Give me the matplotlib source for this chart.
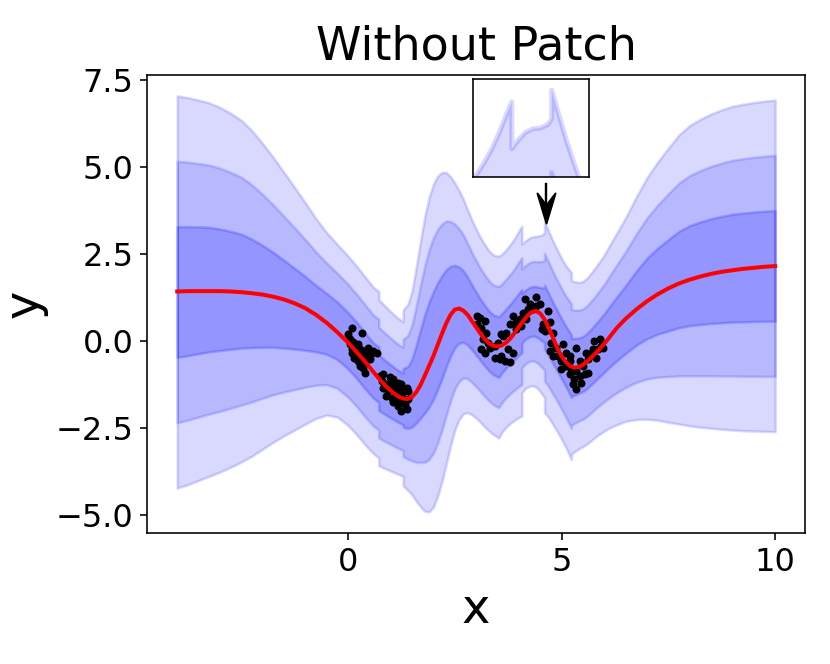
import numpy as np
import matplotlib.pyplot as plt
from matplotlib.path import Path

# x positions of the band read-outs (repeated x = jump in the band)
band_x = [-4.0, -3.75, -3.5, -3.25, -3.0, -2.75, -2.5, -2.25, -2.0, -1.75, -1.5, -1.25,
          -1.0, -0.75, -0.5, -0.25, 0.0, 0.2, 0.4, 0.6, 0.72, 0.72, 0.85, 1.0, 1.15,
          1.29, 1.29, 1.4, 1.5, 1.6, 1.7, 1.8, 1.9, 2.0, 2.1, 2.2, 2.3, 2.4, 2.5, 2.6,
          2.7, 2.8, 2.9, 3.0, 3.1, 3.2, 3.3, 3.4, 3.53, 3.6, 3.7, 3.8, 3.9, 4.0, 4.07,
          4.07, 4.15, 4.25, 4.35, 4.45, 4.55, 4.6, 4.6, 4.7, 4.8, 4.9, 5.0, 5.1, 5.23,
          5.23, 5.3, 5.42, 5.5, 5.6, 5.7, 5.8, 5.9, 6.0, 6.1, 6.25, 6.5, 6.75, 7.0,
          7.25, 7.5, 7.75, 8.0, 8.25, 8.5, 8.75, 9.0, 9.25, 9.5, 9.75, 10.0]
# upper and lower edge of the 3-sigma band
band_hi3 = [7.05, 7.0, 6.93, 6.85, 6.72, 6.55, 6.35, 6.05, 5.68, 5.28, 4.85, 4.42,
            3.98, 3.52, 3.12, 2.78, 2.45, 2.16, 1.85, 1.54, 1.43, 1.20, 1.03, 0.85, 0.68,
            0.56, 0.90, 1.05, 1.45, 2.15, 2.9, 3.6, 4.15, 4.52, 4.75, 4.85, 4.85, 4.73,
            4.55, 4.33, 4.08, 3.78, 3.48, 3.22, 2.98, 2.78, 2.60, 2.48, 2.44, 2.50, 2.63,
            2.78, 2.96, 3.17, 3.31, 2.79, 2.88, 2.97, 3.01, 3.02, 3.06, 3.12, 3.44, 3.15,
            2.87, 2.62, 2.38, 2.17, 1.97, 1.75, 1.71, 1.69, 1.72, 1.82, 1.97, 2.13, 2.30,
            2.48, 2.70, 3.02, 3.55, 4.15, 4.7, 5.15, 5.55, 5.93, 6.2, 6.38, 6.53, 6.65,
            6.75, 6.81, 6.86, 6.9, 6.93]
band_lo3 = [-4.22, -4.12, -4.0, -3.88, -3.76, -3.62, -3.47, -3.3, -3.1, -2.9, -2.72,
            -2.55, -2.38, -2.22, -2.12, -2.18, -2.42, -2.68, -2.98, -3.24, -3.35, -3.58,
            -3.65, -3.73, -3.81, -3.88, -4.16, -4.28, -4.42, -4.6, -4.76, -4.89, -4.9,
            -4.76, -4.45, -4.03, -3.52, -3.0, -2.55, -2.25, -2.08, -2.05, -2.11, -2.21,
            -2.33, -2.46, -2.58, -2.68, -2.78, -2.62, -2.47, -2.36, -2.27, -2.19, -2.15,
            -1.48, -1.36, -1.29, -1.28, -1.37, -1.53, -1.62, -2.05, -2.2, -2.4, -2.6,
            -2.82, -3.05, -3.4, -3.25, -3.18, -3.08, -3.03, -2.95, -2.85, -2.75, -2.66,
            -2.58, -2.51, -2.42, -2.3, -2.25, -2.24, -2.27, -2.33, -2.38, -2.43, -2.47,
            -2.5, -2.53, -2.55, -2.57, -2.58, -2.59, -2.6]

# predictive mean (red curve)
mean_x = [-4.0, -3.75, -3.5, -3.25, -3.0, -2.75, -2.5, -2.25, -2.0, -1.75, -1.5, -1.25,
          -1.0, -0.75, -0.5, -0.25, 0.0, 0.1, 0.2, 0.3, 0.4, 0.5, 0.6, 0.7, 0.8, 0.9,
          1.0, 1.1, 1.2, 1.3, 1.4, 1.5, 1.6, 1.7, 1.8, 1.9, 2.0, 2.1, 2.2, 2.3, 2.4,
          2.5, 2.6, 2.7, 2.8, 2.9, 3.0, 3.1, 3.2, 3.3, 3.4, 3.5, 3.6, 3.7, 3.8, 3.9,
          4.0, 4.1, 4.2, 4.3, 4.4, 4.5, 4.6, 4.7, 4.8, 4.9, 5.0, 5.1, 5.2, 5.3, 5.4,
          5.5, 5.6, 5.7, 5.8, 5.9, 6.0, 6.1, 6.2, 6.3, 6.4, 6.5, 6.75, 7.0, 7.25, 7.5,
          7.75, 8.0, 8.25, 8.5, 8.75, 9.0, 9.25, 9.5, 9.75, 10.0]
mean_y = [1.43, 1.44, 1.44, 1.44, 1.44, 1.43, 1.41, 1.38, 1.34, 1.28, 1.20, 1.09,
          0.95, 0.76, 0.53, 0.26, -0.04, -0.17, -0.31, -0.45, -0.59, -0.74, -0.89,
          -1.04, -1.18, -1.31, -1.42, -1.52, -1.60, -1.65, -1.66, -1.60, -1.46, -1.25,
          -0.98, -0.70, -0.42, -0.10, 0.22, 0.52, 0.76, 0.91, 0.94, 0.88, 0.76, 0.58,
          0.40, 0.22, 0.06, -0.06, -0.13, -0.15, -0.12, -0.04, 0.08, 0.24, 0.41, 0.58,
          0.73, 0.84, 0.87, 0.80, 0.63, 0.38, 0.10, -0.20, -0.43, -0.60, -0.71, -0.76,
          -0.74, -0.68, -0.58, -0.46, -0.34, -0.21, -0.07, 0.08, 0.24, 0.39, 0.52, 0.645,
          0.915, 1.15, 1.35, 1.52, 1.66, 1.77, 1.86, 1.935, 1.995, 2.04, 2.08, 2.11,
          2.14, 2.16]

# training points
data_x = [0.09, 0.32, 0.05, 0.12, 0.05, 0.24, 0.16, 0.09, 0.16, 0.28, 0.40, 0.55, 0.59,
          0.20, 0.32, 0.44, 0.24, 0.40, 0.51, 0.36, 0.40, 0.10, 0.22, 0.30, 0.14, 0.47,
          0.27, 0.01, 0.47, 0.67, 0.28,
          0.83, 0.75, 0.98, 1.06, 0.79, 0.90, 0.83, 1.02, 1.18, 1.25, 1.14, 1.37, 0.94,
          0.90, 1.02, 1.10, 1.21, 1.14, 1.29, 1.41, 1.18, 1.25, 1.37, 1.41, 1.33, 1.05,
          1.28, 1.22, 0.98, 1.29, 1.06,
          3.08, 3.20, 3.01, 3.12, 3.24, 3.16, 3.28, 3.12, 3.43, 3.51, 3.63, 3.71, 3.59,
          3.79, 3.86, 3.94, 4.02, 4.10, 4.06, 3.43, 3.59, 3.67, 3.79, 3.86, 3.74, 3.32,
          3.01, 3.20, 3.55, 3.94, 4.17,
          4.14, 4.25, 4.41, 4.49, 4.21, 4.33, 4.68, 4.56, 4.60, 4.72, 4.41, 4.53,
          4.76, 4.88, 4.72, 4.80, 5.03, 5.11, 4.99, 5.19, 5.34, 4.99, 5.11, 5.23, 5.19,
          5.34, 5.30, 5.42, 5.54, 5.50, 5.61, 5.58, 5.73, 5.77, 5.89, 5.85, 5.96, 5.81,
          5.26, 4.80, 4.91, 5.19, 5.42, 5.34, 5.46, 5.65, 5.93, 5.61]
data_y = [0.39, 0.23, 0.06, -0.02, -0.09, -0.09, -0.13, -0.23, -0.28, -0.21, -0.28,
          -0.33, -0.28, -0.42, -0.47, -0.44, -0.57, -0.61, -0.50, -0.76, -0.90, -0.35,
          -0.30, -0.36, -0.48, -0.38, -0.62, 0.20, -0.18, -0.33, -0.71,
          -0.95, -1.00, -1.04, -1.09, -1.14, -1.24, -1.33, -1.19, -1.19, -1.24, -1.33,
          -1.33, -1.43, -1.57, -1.62, -1.47, -1.52, -1.72, -1.67, -1.43, -1.86, -2.00,
          -1.95, -1.67, -1.81, -1.35, -1.45, -1.75, -1.28, -1.43, -1.76,
          0.68, 0.58, 0.49, 0.39, 0.25, 0.06, -0.04, -0.23, -0.13, -0.04, 0.15, 0.25,
          0.20, 0.49, 0.73, 0.54, 0.63, 0.82, 0.44, -0.47, -0.42, -0.57, -0.61, -0.33,
          -0.23, -0.18, 0.73, -0.33, -0.52, 0.34, 0.63,
          1.21, 1.06, 1.26, 1.06, 0.92, 0.92, 0.87, 0.49, 0.30, 0.54, 1.01, 0.34,
          -0.04, -0.18, -0.28, -0.42, -0.09, -0.33, -0.57, -0.42, -0.18, -0.80, -0.71,
          -0.80, -0.95, -0.85, -1.09, -1.00, -0.95, -0.71, -0.52, -0.33, -0.23, 0.01,
          0.06, -0.23, -0.18, -0.47, -1.24, 0.25, -0.42, -0.57, -0.57, -1.38, -1.19,
          -0.37, -0.13, -0.90]

bx = np.array(band_x)
hi = np.array(band_hi3)
lo = np.array(band_lo3)
mu = (hi + lo) / 2
sd = (hi - lo) / 6

fig = plt.figure(figsize=(830 / 144, 664 / 144), dpi=144)
ax = fig.add_axes([0.1775, 0.1968, 0.7924, 0.6902])

# 3, 2, 1 sigma bands stacked on top of each other
for k, a in ((3, 0.15), (2, 0.15), (1, 0.19)):
    ax.fill_between(bx, mu - k * sd, mu + k * sd, facecolor='b', edgecolor='b',
                    alpha=a, lw=1.3)
ax.plot(data_x, data_y, 'k.')
ax.plot(mean_x, mean_y, 'r', lw=2)

ax.set_xlim(-4.7, 10.7)
ax.set_ylim(-5.52, 7.65)
ax.set_xticks([0, 5, 10])
ax.set_yticks([-5.0, -2.5, 0.0, 2.5, 5.0, 7.5])
ax.tick_params(labelsize=16)
ax.set_title('Without Patch', fontsize=23, pad=8)
ax.set_xlabel('x', fontsize=24)
ax.set_ylabel('y', fontsize=24)

# arrow pointing at the jump in the band
head = Path([(0, 0), (9, 30), (0, 18), (-9, 30), (0, 0)],
            [Path.MOVETO, Path.LINETO, Path.LINETO, Path.LINETO, Path.CLOSEPOLY])
ax.plot([4.64, 4.64], [4.51, 3.95], color='k', lw=1.2)
ax.plot([4.64], [3.4], marker=head, ms=30, color='k', lw=0)

# zoomed inset
axins = fig.add_axes([0.5703, 0.7339, 0.1398, 0.1467])
for k, a in ((3, 0.15), (2, 0.15), (1, 0.19)):
    axins.fill_between(bx, mu - k * sd, mu + k * sd, facecolor='b', edgecolor='b',
                       alpha=a, lw=2.5)
axins.set_xlim(3.56, 5.1)
axins.set_ylim(2.48, 3.56)
axins.set_xticks([])
axins.set_yticks([])

fig.savefig('out.png', dpi=144)
